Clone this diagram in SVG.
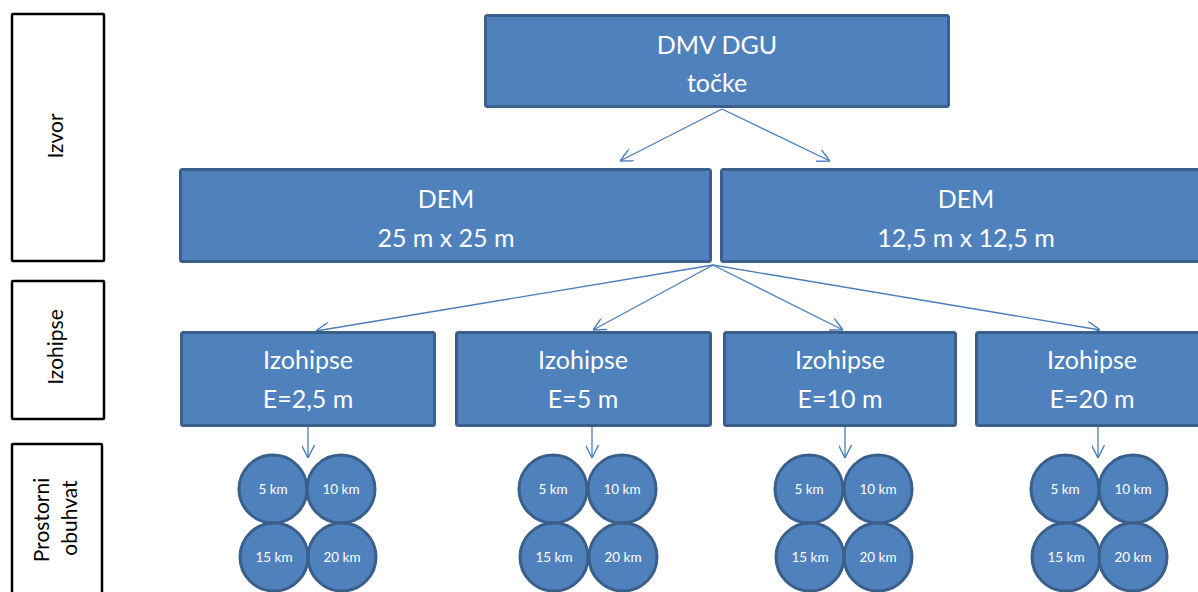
<svg xmlns="http://www.w3.org/2000/svg" width="1198" height="592" viewBox="0 0 1198 592">
<defs>
<style>
.box{fill:#4F81BD;stroke:#3A5F8B;stroke-width:3}
.lbl{fill:#fff;stroke:#000;stroke-width:2.5}
.t{font-family:Lato,"Liberation Sans",sans-serif;font-size:25px;fill:#fff;text-anchor:middle}
.c{fill:#4F81BD;stroke:#3A5F8B;stroke-width:3}
.ct{font-family:Lato,"Liberation Sans",sans-serif;font-size:13.5px;fill:#fff;text-anchor:middle}
.lt{font-family:Lato,"Liberation Sans",sans-serif;font-size:21px;fill:#000;text-anchor:middle}
.con{stroke:#4A7EBB;stroke-width:1.3;fill:none}
</style>
<marker id="ah" viewBox="0 0 12 12" refX="12" refY="6" markerWidth="13" markerHeight="13" markerUnits="userSpaceOnUse" orient="auto">
<path d="M0,0 L12,6 L0,12" fill="none" stroke="#4A7EBB" stroke-width="1.3"/>
</marker>
</defs>
<rect width="1198" height="592" fill="#fff"/>

<g id="label-izvor">
<rect class="lbl" x="12" y="14" width="92" height="247" rx="1"/>
<text class="lt" transform="translate(56,136) rotate(-90)" dy="7">Izvor</text>
</g>
<g id="label-izohipse">
<rect class="lbl" x="12" y="281" width="92" height="138" rx="1"/>
<text class="lt" transform="translate(56,347) rotate(-90)" dy="7">Izohipse</text>
</g>
<g id="label-prostorni">
<rect class="lbl" x="12" y="444" width="90" height="170" rx="1"/>
<text class="lt" transform="translate(42,520) rotate(-90)" dy="7">Prostorni</text>
<text class="lt" transform="translate(70,518) rotate(-90)" dy="7">obuhvat</text>
</g>

<g id="connectors">
<line class="con" x1="722" y1="109" x2="620" y2="161" marker-end="url(#ah)"/>
<line class="con" x1="722" y1="109" x2="830" y2="161" marker-end="url(#ah)"/>
<line class="con" x1="713" y1="265" x2="316" y2="331" marker-end="url(#ah)"/>
<line class="con" x1="713" y1="265" x2="593" y2="330" marker-end="url(#ah)"/>
<line class="con" x1="713" y1="265" x2="843" y2="330" marker-end="url(#ah)"/>
<line class="con" x1="713" y1="265" x2="1100" y2="330" marker-end="url(#ah)"/>
<line class="con" x1="308" y1="427" x2="308" y2="458" marker-end="url(#ah)"/>
<line class="con" x1="592" y1="427" x2="592" y2="458" marker-end="url(#ah)"/>
<line class="con" x1="845" y1="427" x2="845" y2="458" marker-end="url(#ah)"/>
<line class="con" x1="1098" y1="427" x2="1098" y2="458" marker-end="url(#ah)"/>
</g>

<g id="dmv">
<rect class="box" x="485.5" y="15.5" width="463" height="91" rx="2"/>
<text class="t" x="717" y="54">DMV DGU</text>
<text class="t" x="717" y="92">točke</text>
</g>
<g id="dem25">
<rect class="box" x="180.5" y="169.5" width="530" height="92" rx="2"/>
<text class="t" x="446" y="208">DEM</text>
<text class="t" x="446" y="247">25 m x 25 m</text>
</g>
<g id="dem125">
<rect class="box" x="721.5" y="169.5" width="490" height="92" rx="2"/>
<text class="t" x="966" y="208">DEM</text>
<text class="t" x="966" y="247">12,5 m x 12,5 m</text>
</g>

<g id="izo25">
<rect class="box" x="181.5" y="332.5" width="253" height="93" rx="2"/>
<text class="t" x="308" y="369">Izohipse</text>
<text class="t" x="308" y="408">E=2,5 m</text>
</g>
<g id="izo5">
<rect class="box" x="456.5" y="332.5" width="254" height="93" rx="2"/>
<text class="t" x="583" y="369">Izohipse</text>
<text class="t" x="583" y="408">E=5 m</text>
</g>
<g id="izo10">
<rect class="box" x="724.5" y="332.5" width="231" height="93" rx="2"/>
<text class="t" x="840" y="369">Izohipse</text>
<text class="t" x="840" y="408">E=10 m</text>
</g>
<g id="izo20">
<rect class="box" x="976.5" y="332.5" width="232" height="93" rx="2"/>
<text class="t" x="1092" y="369">Izohipse</text>
<text class="t" x="1092" y="408">E=20 m</text>
</g>

<g id="obuhvat1">
<circle class="c" cx="273" cy="489" r="34"/><text class="ct" x="273" y="494">5 km</text>
<circle class="c" cx="341" cy="489" r="34"/><text class="ct" x="341" y="494">10 km</text>
<circle class="c" cx="274" cy="557" r="34"/><text class="ct" x="274" y="562">15 km</text>
<circle class="c" cx="342" cy="557" r="34"/><text class="ct" x="342" y="562">20 km</text>
</g>
<g id="obuhvat2">
<circle class="c" cx="553" cy="489" r="34"/><text class="ct" x="553" y="494">5 km</text>
<circle class="c" cx="622" cy="489" r="34"/><text class="ct" x="622" y="494">10 km</text>
<circle class="c" cx="554" cy="557" r="34"/><text class="ct" x="554" y="562">15 km</text>
<circle class="c" cx="623" cy="557" r="34"/><text class="ct" x="623" y="562">20 km</text>
</g>
<g id="obuhvat3">
<circle class="c" cx="809" cy="489" r="34"/><text class="ct" x="809" y="494">5 km</text>
<circle class="c" cx="878" cy="489" r="34"/><text class="ct" x="878" y="494">10 km</text>
<circle class="c" cx="810" cy="557" r="34"/><text class="ct" x="810" y="562">15 km</text>
<circle class="c" cx="878" cy="557" r="34"/><text class="ct" x="878" y="562">20 km</text>
</g>
<g id="obuhvat4">
<circle class="c" cx="1065" cy="489" r="34"/><text class="ct" x="1065" y="494">5 km</text>
<circle class="c" cx="1133" cy="489" r="34"/><text class="ct" x="1133" y="494">10 km</text>
<circle class="c" cx="1066" cy="557" r="34"/><text class="ct" x="1066" y="562">15 km</text>
<circle class="c" cx="1133" cy="557" r="34"/><text class="ct" x="1133" y="562">20 km</text>
</g>
</svg>
